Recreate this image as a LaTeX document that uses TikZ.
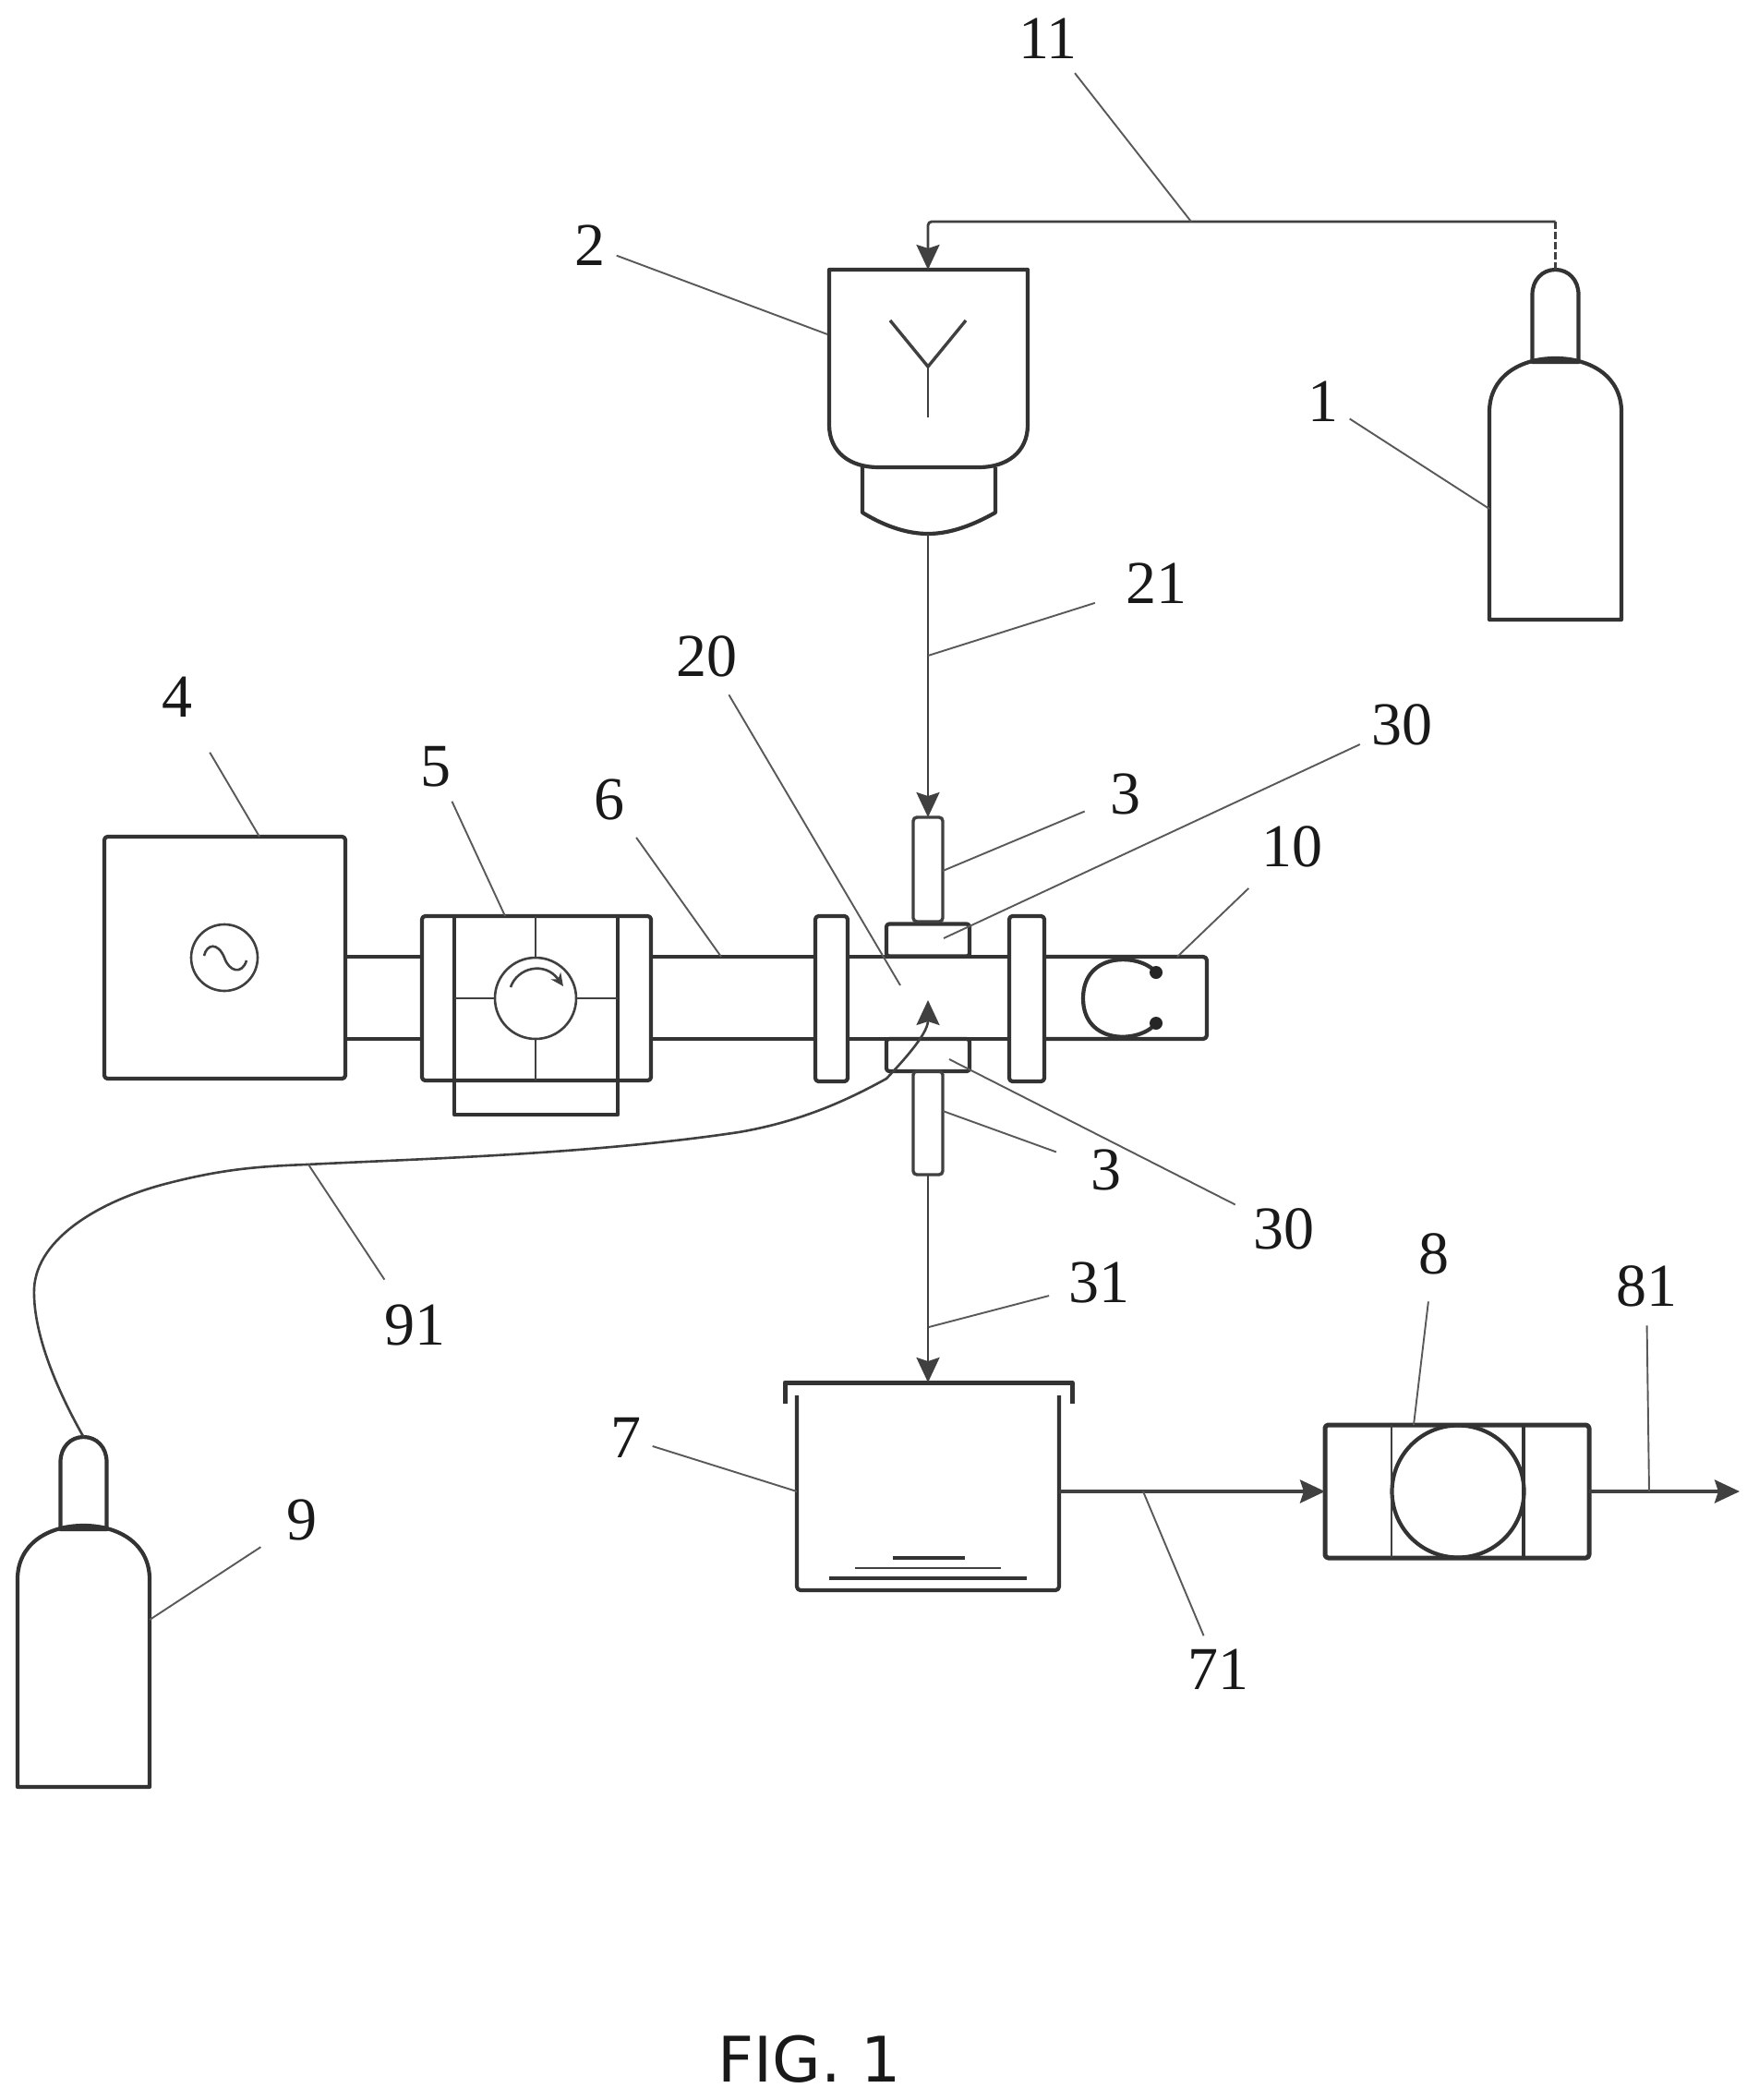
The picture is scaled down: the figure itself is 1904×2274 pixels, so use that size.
\documentclass[tikz,border=0pt]{standalone}
\usepackage{fontspec}
\setmainfont{Liberation Serif}
\newfontfamily\figfont{DejaVu Sans}
\usetikzlibrary{calc,arrows.meta}
\tikzset{
  outline/.style={draw=black!80,line width=4.2pt,line join=round},
  thin outline/.style={draw=black!75,line width=2.6pt},
  unit/.style={outline,inner sep=0pt,outer sep=0pt,rounded corners=3.5pt},
  tube/.style={draw=black!75,line width=3.4pt,inner sep=0pt,outer sep=0pt,rounded corners=4pt},
  flow/.style={draw=black!75,line width=2.8pt,rounded corners=4pt,-{Stealth[length=27pt,width=25pt,inset=4pt]}},
  leader/.style={draw=black!65,line width=1.9pt},
  refnum/.style={font=\fontsize{66}{66}\selectfont,text=black!90,inner sep=12pt},
  bottle/.pic={
    \draw[outline] (-71.5,0) -- (-71.5,-225) .. controls (-71.5,-262) and (-40,-283) .. (0,-283)
      .. controls (40,-283) and (71.5,-262) .. (71.5,-225) -- (71.5,0) -- cycle;
    \draw[outline] (-25,-279) -- (-25,-352) .. controls (-25,-368) and (-14,-379) .. (0,-379)
      .. controls (14,-379) and (25,-368) .. (25,-352) -- (25,-279) -- cycle;
    \coordinate (-top) at (0,-379);
  }
}
\begin{document}
\begin{tikzpicture}[x=1pt,y=-1pt]
  \useasboundingbox (0,0) rectangle (1904,2274);
  \fill[white] (0,0) rectangle (1904,2274);

  %% Gas bottles
  \pic (gasA) at (1684.5,671) {bottle};
  \pic (gasB) at (90.5,1935) {bottle};

  %% Atomizer
  \draw[outline] (898,292) -- (1113,292) -- (1113,460) .. controls (1113,490) and (1090,506) .. (1060,506)
    -- (951,506) .. controls (921,506) and (898,490) .. (898,460) -- cycle;
  \draw[outline] (934,506) -- (934,555) .. controls (955,568) and (980,578) .. (1005,578)
    .. controls (1030,578) and (1055,568) .. (1078,555) -- (1078,506);
  \draw[thin outline,line width=3.4pt] (964,347) -- (1005,397) -- (1046,347);
  \draw[thin outline] (1005,397) -- (1005,452);
  \coordinate (atomIn) at (1005,292);
  \coordinate (atomOut) at (1005,578);
  \coordinate (bend) at (1005,240);
  \coordinate (gasBend) at (1684.5,240);

  %% Microwave line along the axis
  \node[unit,minimum width=261pt,minimum height=262pt] (source) at (243.5,1037) {};
  \node[thin outline,circle,minimum size=72pt,inner sep=0pt] (sine) at (243,1037) {};
  \draw[thin outline] (221,1035) .. controls (224,1022) and (236,1020) .. (243,1037)
    .. controls (248,1052) and (262,1056) .. (267,1040);
  \node[unit,minimum width=248pt,minimum height=178pt] (tuner) at (581,1081) {};
  \node[thin outline,circle,minimum size=88pt,inner sep=0pt] (dial) at (580,1081) {};
  \draw[outline] (492,992) -- (492,1207) -- (669,1207) -- (669,992);
  \draw[thin outline] (492,1081) -- (dial.west) (dial.east) -- (669,1081)
    (580,992) -- (dial.north) (dial.south) -- (580,1170);
  \draw[thin outline,-{Stealth[length=14pt,width=13pt]}] (553,1069) .. controls (560,1048) and (590,1040) .. (610,1068);
  \node[unit,minimum width=35pt,minimum height=179pt] (flangeL) at (900.5,1081.5) {};
  \node[unit,minimum width=38pt,minimum height=179pt] (flangeR) at (1112,1081.5) {};

  %% Waveguide walls
  \foreach \y in {1036,1125}
  {
    \draw[outline] (source.east|-0,\y) -- (tuner.west|-0,\y);
    \draw[outline] (tuner.east|-0,\y) -- (flangeL.west|-0,\y);
    \draw[outline] (flangeL.east|-0,\y) -- (flangeR.west|-0,\y);
  }
  \draw[outline,rounded corners=4pt] (flangeR.east|-0,1036) -- (1307,1036) -- (1307,1125) -- (flangeR.east|-0,1125);

  %% Short circuit
  \draw[outline] (1252,1053) .. controls (1235,1032) and (1173,1030) .. (1173,1081)
    .. controls (1173,1132) and (1235,1130) .. (1252,1108);
  \fill[black!85] (1252,1053) circle (7) (1252,1108) circle (7);

  %% Torch
  \node[unit,rounded corners=3pt,minimum width=90pt,minimum height=35pt] (portT) at (1005,1018) {};
  \node[unit,rounded corners=3pt,minimum width=90pt,minimum height=35pt] (portB) at (1005,1142.5) {};
  \node[tube,minimum width=32pt,minimum height=113pt] (tubeT) at (1005,941.5) {};
  \node[tube,minimum width=32pt,minimum height=112pt] (tubeB) at (1005,1216) {};

  %% Collector
  \draw[outline,line width=5pt] (850,1520) -- (850,1497) -- (1161,1497) -- (1161,1520);
  \draw[outline,rounded corners=4pt] (863,1511) -- (863,1722) -- (1147,1722) -- (1147,1511);
  \draw[outline] (967,1687) -- (1045,1687);
  \draw[thin outline] (926,1698) -- (1084,1698);
  \draw[outline] (898,1709) -- (1112,1709);
  \coordinate (collIn) at (1005,1497);
  \coordinate (collOut) at (1147,1615);

  %% Pump
  \node[unit,line width=5pt,minimum width=286pt,minimum height=144pt] (pump) at (1578,1615) {};
  \node[outline,circle,minimum size=143pt,inner sep=0pt,outer sep=0pt] (rotor) at (1579,1615) {};
  \draw[thin outline] (1507,1543) -- (1507,1687);
  \draw[outline] (1650,1543) -- (1650,1687);
  \coordinate (pumpOut) at (1884,1615);

  %% Connections
  \draw[thin outline,dash pattern=on 8pt off 3pt] (gasA-top) -- (gasBend);
  \draw[flow] (gasBend) -- (bend) -- (atomIn);
  \draw[flow] (atomOut) -- (tubeT.north);
  \draw[flow] (tubeB.south) -- (collIn);
  \draw[flow,line width=4pt] (collOut) -- (pump.west);
  \draw[flow,line width=4pt] (pump.east) -- (pumpOut);
  \draw[thin outline,-{Stealth[length=27pt,width=25pt,inset=4pt]}] (gasB-top)
    .. controls (70,1520) and (35,1450) .. (37,1395)
    .. controls (40,1340) and (110,1300) .. (179,1282)
    .. controls (240,1266) and (280,1263) .. (332,1261)
    .. controls (450,1255) and (640,1250) .. (800,1226)
    .. controls (870,1214) and (920,1190) .. (960,1168)
    .. controls (975,1152) and (1005,1120) .. (1005,1083);

  %% Reference numbers with their leaders
  \foreach \n/\txt/\lx/\ly/\ex/\ey/\gap in {
    A/11/1135/42/1290/240/4, B/2/639/266/896/362/0, C/1/1433/435/1613/551/0,
    D/21/1252/632/1005/710/22, E/20/765/711/975/1067/8, F/30/1518/785/1022/1016/0,
    G/3/1219/860/1021/943/17, H/4/192/755/281/906/30, I/5/472/830/547/992/4,
    J/6/660/866/781/1036/8, K/10/1399/917/1275/1036/15, L/3/1198/1267/1021/1203/27,
    M/30/1390/1331/1028/1147/8, N/31/1190/1389/1006/1437/9, O/91/449/1435/334/1261/18,
    P/7/678/1557/863/1615/0, Q/71/1319/1808/1238/1615/3, R/8/1553/1358/1531/1543/17,
    S/81/1783/1393/1786/1615/8, T/9/327/1646/162/1754/19}
  {
    \node[refnum] (num\n) at (\lx,\ly) {\txt};
    \coordinate (end\n) at (\ex,\ey);
    \draw[leader,shorten <=\gap pt] (num\n) -- (end\n);
  }

  \node[font=\figfont\fontsize{68}{68}\selectfont,text=black!90] (figlabel) at (877,2230) {FIG. 1};
\end{tikzpicture}
\end{document}
